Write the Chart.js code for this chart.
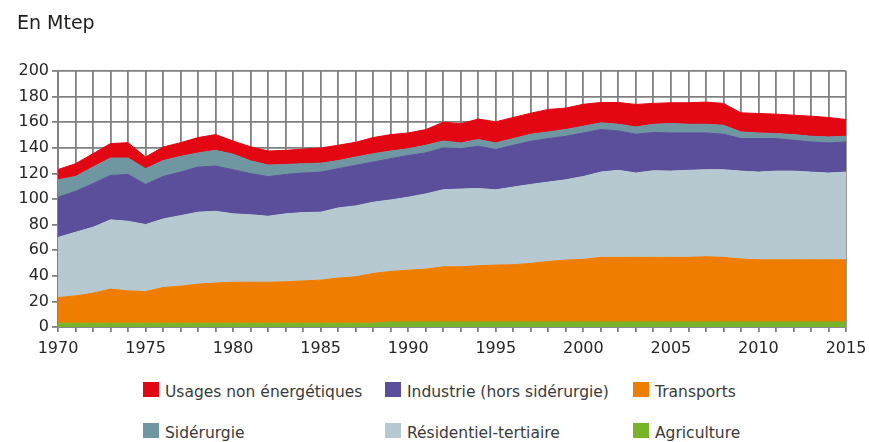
<!DOCTYPE html>
<html lang="fr">
<head>
<meta charset="utf-8">
<title>Consommation finale d'énergie par secteur</title>
<script src="https://cdn.jsdelivr.net/npm/chart.js@4.4.1/dist/chart.umd.min.js"></script>
<style>
  html, body { margin: 0; padding: 0; background: #ffffff; }
  #wrap { position: relative; width: 869px; height: 442px; overflow: hidden; font-family: "DejaVu Sans", sans-serif; }
  #chart { position: absolute; left: 0; top: 0; }
  #unit { position: absolute; left: 17px; top: 13px; font-size: 19px; line-height: 19px; color: #1d1d1b; white-space: nowrap; }
  .leg { position: absolute; font-size: 15.5px; line-height: 16px; color: #3a3a3a; white-space: nowrap; }
  .leg span.box { position: absolute; left: 0; width: 16px; height: 15px; }
  .leg span.txt { position: absolute; left: 22px; top: 2px; }
</style>
</head>
<body>
<div id="wrap">
  <canvas id="chart" width="869" height="372"></canvas>
  <div id="unit">En Mtep</div>
  <div id="legend"></div>
</div>
<script>
// Years on the horizontal axis
const years = [];
for (let y = 1970; y <= 2015; y++) years.push(String(y));

// Consumption by sector, Mtep (stacked from the bottom up)
const agriculture = [3, 3, 3, 3, 3, 3, 3, 3, 3, 3, 3, 3, 3, 3, 3, 3, 3, 3, 3,
  4, 4, 4, 4, 4, 4, 4, 4, 4, 4, 4, 4, 4, 4, 4, 4, 4, 4, 4, 4, 4, 4, 4, 4, 4, 4, 4];
const transports = [20, 21.3, 23.4, 26.6, 25.2, 24.7, 27.8, 28.9, 30.5, 31.3, 32, 32, 32, 32.3, 33, 33.6,
  35.2, 36.2, 38.8, 39.4, 40.4, 41.2, 43, 43, 43.8, 44.4, 44.6, 45.7, 47.2, 48.3, 48.8, 50.4,
  50.4, 50.4, 50.4, 50.4, 50.4, 50.9, 50.4, 49.1, 48.5, 48.5, 48.5, 48.5, 48.5, 48.5];
const residentiel = [47, 49.7, 51.5, 54.1, 54.4, 52.3, 53.6, 55.1, 56.2, 56.1, 53.4, 52.7, 51.5, 53.1, 53.4, 53.1,
  54.8, 55.4, 55.7, 55.9, 57, 58.8, 60.2, 60.8, 60.4, 58.8, 60.7, 61.7, 62, 62.7, 64.8, 66.6,
  68, 65.9, 67.7, 67.4, 68, 68, 68.5, 68.7, 68.5, 69.3, 69.3, 68.5, 67.8, 68.5];
const industrie = [31.4, 32, 34.1, 34.7, 36.6, 31.4, 33.2, 34, 35.3, 35.3, 34.5, 32.1, 31, 30.8, 30.9, 31.3,
  30.7, 31.7, 31.4, 32.2, 32.6, 32, 32.7, 31.5, 33, 31.4, 32.7, 33.7, 34, 34, 34, 33.3,
  30.8, 30.3, 29.9, 29.8, 29.2, 28.7, 27.7, 25.4, 26.2, 25.4, 24.1, 23.6, 23.5, 23.6];
const siderurgie = [13.6, 11.6, 13, 13.6, 12.8, 12.3, 12.4, 12.3, 11, 12.3, 12.1, 10, 9, 7.8, 7.3, 7,
  6.3, 6.5, 6.5, 6, 5.3, 6, 5.4, 4.5, 5.2, 5.2, 5.2, 5.5, 5.2, 5.3, 5.3, 5.2,
  5.2, 5.7, 6.4, 7.4, 6.8, 6.8, 7, 5.2, 4.4, 3.9, 4.4, 4.4, 4.7, 4.4];
const usagesNonEnergetiques = [8, 10, 10.4, 11.3, 12, 9.1, 10.6, 10.7, 12, 12.3, 10.3, 11, 11, 11, 11.4, 11.9,
  12, 11.5, 12.6, 12.8, 12.3, 12.2, 14.7, 15, 16.1, 16.5, 16.5, 16.4, 17.6, 16.7, 17.1, 15.9,
  17, 17.6, 16.3, 16.2, 16.8, 17.3, 17.1, 14.9, 15.2, 15.2, 15.2, 15.7, 15.2, 13.1];

// Vertical axis ticks
const yTicks = [0, 20, 40, 60, 80, 100, 120, 140, 160, 180, 200];

const series = [
  { label: "Agriculture", data: agriculture, color: "#78b42a" },
  { label: "Transports", data: transports, color: "#ef7d00" },
  { label: "Résidentiel-tertiaire", data: residentiel, color: "#b6c9d1" },
  { label: "Industrie (hors sidérurgie)", data: industrie, color: "#5b4e9b" },
  { label: "Sidérurgie", data: siderurgie, color: "#6f96a1" },
  { label: "Usages non énergétiques", data: usagesNonEnergetiques, color: "#e30613" }
];

const gridColor = "#808080";
const gridWidth = 1.8;
const tickFont = { family: "DejaVu Sans", size: 16 };
const CANVAS_H = 372;
const PLOT_BOTTOM = 327;

new Chart(document.getElementById("chart"), {
  type: "line",
  data: {
    labels: years,
    datasets: series.map((s, i) => ({
      label: s.label,
      data: s.data,
      backgroundColor: s.color,
      borderColor: s.color,
      borderWidth: 1,
      pointRadius: 0,
      tension: 0,
      fill: i === 0 ? "origin" : "-1"
    }))
  },
  options: {
    responsive: false,
    animation: false,
    events: [],
    layout: { padding: { top: 71, right: 23, bottom: 0, left: 0 } },
    plugins: {
      legend: { display: false },
      tooltip: { enabled: false }
    },
    scales: {
      x: {
        type: "category",
        offset: false,
        grid: { color: gridColor, lineWidth: gridWidth, tickLength: 5, drawTicks: true },
        border: { color: gridColor, width: gridWidth },
        ticks: {
          autoSkip: false,
          maxRotation: 0,
          minRotation: 0,
          padding: 7,
          color: "#262626",
          font: tickFont,
          callback: function (value) {
            const lab = this.getLabelForValue(value);
            return Number(lab) % 5 === 0 ? lab : "";
          }
        },
        afterFit: (scale) => {
          scale.height = CANVAS_H - PLOT_BOTTOM;
          scale.paddingLeft = 0;
          scale.paddingRight = 0;
        }
      },
      y: {
        stacked: true,
        min: yTicks[0],
        max: yTicks[yTicks.length - 1],
        afterBuildTicks: (scale) => { scale.ticks = yTicks.map(v => ({ value: v })); },
        grid: { color: gridColor, lineWidth: gridWidth, tickLength: 6 },
        border: { color: gridColor, width: gridWidth },
        ticks: { padding: 3, color: "#262626", font: tickFont },
        afterFit: (scale) => {
          scale.width = 58;
          scale.paddingTop = 0;
          scale.paddingBottom = 0;
        }
      }
    }
  }
});

// Legend in two rows of three, built from the series list
const legendLayout = [
  ["Usages non énergétiques", 143, 382],
  ["Industrie (hors sidérurgie)", 385, 382],
  ["Transports", 633, 382],
  ["Sidérurgie", 143, 423],
  ["Résidentiel-tertiaire", 385, 423],
  ["Agriculture", 633, 423]
];
const legendEl = document.getElementById("legend");
legendLayout.forEach(([name, x, y]) => {
  const s = series.find(d => d.label === name);
  const item = document.createElement("div");
  item.className = "leg";
  item.style.left = x + "px";
  item.style.top = y + "px";
  item.innerHTML = '<span class="box" style="background:' + s.color + '"></span><span class="txt"></span>';
  item.querySelector(".txt").textContent = s.label;
  legendEl.appendChild(item);
});
</script>
</body>
</html>
